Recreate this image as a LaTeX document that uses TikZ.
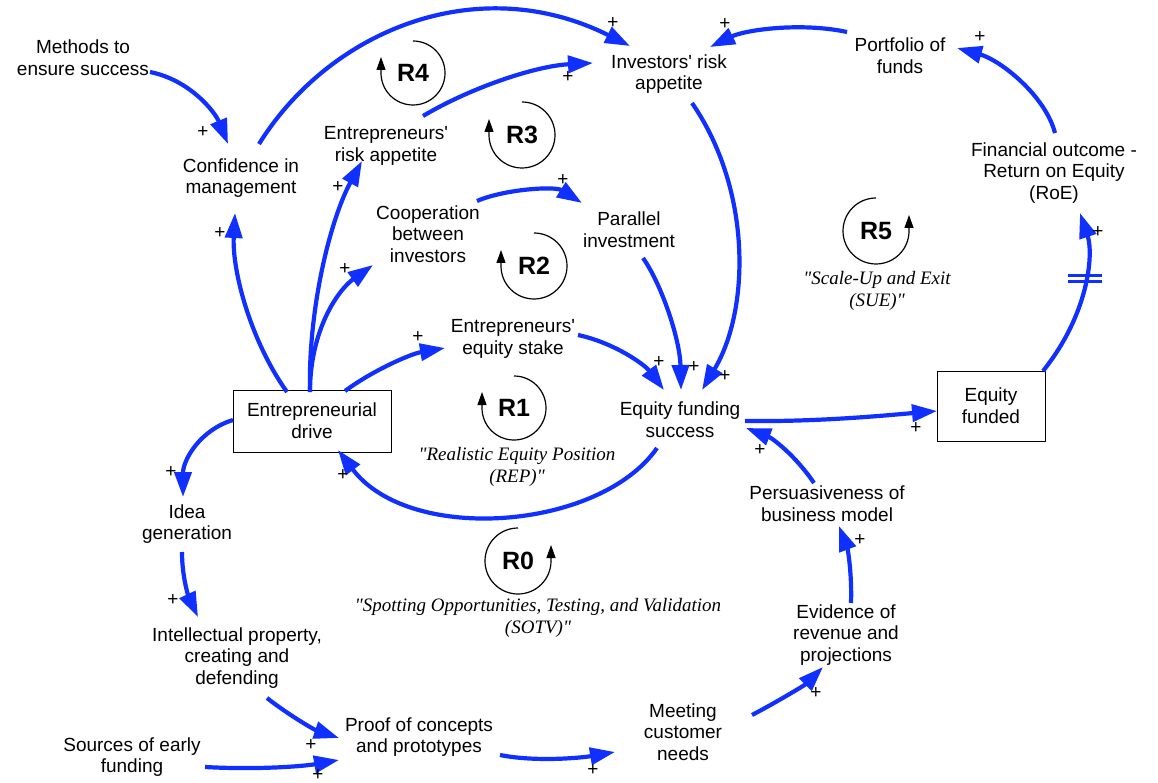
\documentclass[tikz,border=0pt]{standalone}
\usepackage{fontspec}
\setmainfont{Liberation Sans}[Ligatures=TeXOff]
\newfontfamily\itserif{Liberation Serif}[Ligatures=TeXOff]
\usetikzlibrary{arrows.meta}
\definecolor{linkblue}{RGB}{16,48,255}
\begin{document}
\begin{tikzpicture}[x=1pt,y=-1pt,
  lbl/.style={align=center,font=\fontsize{19}{21.7}\selectfont,inner sep=0pt},
  box/.style={draw,line width=1pt,fill=white,align=center,font=\fontsize{19}{21.7}\selectfont,inner sep=0pt},
  link/.style={draw=linkblue,line width=4.2pt,-{Triangle[length=25pt,width=17pt]}},
  pl/.style={font=\fontsize{19}{19}\selectfont,inner sep=0pt},
  loopc/.style={draw,line width=1.2pt,-{Triangle[length=13pt,width=9pt]}},
  rlab/.style={font=\bfseries\fontsize{25}{25}\selectfont,inner sep=0pt},
  ital/.style={align=center,font=\itserif\itshape\fontsize{19}{21.5}\selectfont,inner sep=0pt},
  delay/.style={draw=linkblue,line width=3.2pt}]
\useasboundingbox[fill=white] (0,0) rectangle (1158,783);

% variables
\node[lbl] (meth) at (83,58) {Methods to\\ensure success};
\node[lbl] (conf) at (241,178) {Confidence in\\management};
\node[lbl] (era) at (386,146) {Entrepreneurs'\\risk appetite};
\node[lbl] (ira) at (669,74) {Investors' risk\\appetite};
\node[lbl] (port) at (900,56) {Portfolio of\\funds};
\node[lbl] (fin) at (1054,173) {Financial outcome -\\Return on Equity\\(RoE)};
\node[lbl] (coop) at (428,234) {Cooperation\\between\\investors};
\node[lbl] (par) at (629,230) {Parallel\\investment};
\node[lbl] (ees) at (513,339) {Entrepreneurs'\\equity stake};
\node[box,minimum width=158,minimum height=62] (drive) at (312,421) {Entrepreneurial\\drive};
\node[lbl] (efs) at (680,420) {Equity funding\\success};
\node[box,minimum width=108,minimum height=70] (ef) at (991,406) {Equity\\funded};
\node[lbl] (idea) at (187,524) {Idea\\generation};
\node[lbl] (ip) at (237,658) {Intellectual property,\\creating and\\defending};
\node[lbl] (proof) at (419,737) {Proof of concepts\\and prototypes};
\node[lbl] (src) at (132,757) {Sources of early\\funding};
\node[lbl] (meet) at (683,732) {Meeting\\customer\\needs};
\node[lbl] (evid) at (846,635) {Evidence of\\revenue and\\projections};
\node[lbl] (pers) at (827,504) {Persuasiveness of\\business model};

% loop labels
\node[rlab] (r4) at (413,73) {R4};
\node[rlab] (r3) at (522,135) {R3};
\node[rlab] (r2) at (534,266) {R2};
\node[rlab] (r1) at (514,408) {R1};
\node[rlab] (r0) at (518,561) {R0};
\node[rlab] (r5) at (876,231) {R5};
\draw[loopc] ([shift={(270:32)}]r4.center) arc[start angle=270,end angle=540,radius=32] -- ++(0,-16);
\draw[loopc] ([shift={(270:33)}]r3.center) arc[start angle=270,end angle=540,radius=33] -- ++(0,-16);
\draw[loopc] ([shift={(270:33)}]r2.center) arc[start angle=270,end angle=540,radius=33] -- ++(0,-16);
\draw[loopc] ([shift={(270:32)}]r1.center) arc[start angle=270,end angle=540,radius=32] -- ++(0,-16);
\draw[loopc] ([shift={(270:33)}]r0.center) arc[start angle=270,end angle=0,radius=33] -- ++(0,-16);
\draw[loopc] ([shift={(270:33)}]r5.center) arc[start angle=270,end angle=0,radius=33] -- ++(0,-16);

\node[ital] (rep) at (517,467) {"Realistic Equity Position\\(REP)"};
\node[ital] (sotv) at (538,618) {"Spotting Opportunities, Testing, and Validation\\(SOTV)"};
\node[ital] (sue) at (877,291) {"Scale-Up and Exit\\(SUE)"};

% links
\draw[link] ([shift={(67,14)}]meth.center) .. controls (190,80) and (215,112) .. ([shift={(-13,-34)}]conf.center);
\draw[link] ([shift={(18,-34)}]conf.center) .. controls (330,30) and (478,-30) .. ([shift={(-39,-28)}]ira.center);
\draw[link] ([shift={(37,-30)}]era.center) .. controls (470,88) and (535,66) .. ([shift={(-76,-11)}]ira.center);
\draw[link] ([shift={(49,-33)}]coop.center) .. controls (505,189) and (555,186) .. ([shift={(-47,-27)}]par.center);
\draw[link] ([shift={(-25,-29)}]drive.center) .. controls (250,340) and (232,270) .. ([shift={(-6,35)}]conf.center);
\draw[link] ([shift={(-2,-29)}]drive.center) .. controls (308,310) and (330,220) .. ([shift={(-24,15)}]era.center);
\draw[link] ([shift={(-2,-29)}]drive.center) .. controls (310,330) and (338,290) .. ([shift={(-55,31)}]coop.center);
\draw[link] ([shift={(33,-30)}]drive.center) .. controls (372,371) and (410,354) .. ([shift={(-68,9)}]ees.center);
\draw[link] ([shift={(-79,-1)}]drive.center) .. controls (200,430) and (183,460) .. ([shift={(-4,-27)}]idea.center);
\draw[link] ([shift={(-5,28)}]idea.center) .. controls (182,580) and (190,600) .. ([shift={(-39,-41)}]ip.center);
\draw[link] ([shift={(30,40)}]ip.center) .. controls (290,716) and (315,730) .. ([shift={(-80,1)}]proof.center);
\draw[link] ([shift={(73,10)}]src.center) .. controls (260,770) and (305,766) .. ([shift={(-80,23)}]proof.center);
\draw[link] ([shift={(81,18)}]proof.center) .. controls (535,762) and (580,758) .. ([shift={(-68,20)}]meet.center);
\draw[link] ([shift={(69,-17)}]meet.center) .. controls (775,703) and (805,685) .. ([shift={(-23,32)}]evid.center);
\draw[link] ([shift={(5,-32)}]evid.center) .. controls (852,575) and (848,550) .. ([shift={(12,22)}]pers.center);
\draw[link] ([shift={(-13,-21)}]pers.center) .. controls (795,455) and (772,438) .. ([shift={(66,8)}]efs.center);
\draw[link] ([shift={(-23,28)}]efs.center) .. controls (600,530) and (410,545) .. ([shift={(26,29)}]drive.center);
\draw[link] ([shift={(65,-4)}]ees.center) .. controls (615,343) and (645,365) .. ([shift={(-16,-30)}]efs.center);
\draw[link] ([shift={(14,28)}]par.center) .. controls (662,285) and (680,340) .. ([shift={(1,-30)}]efs.center);
\draw[link] ([shift={(23,29)}]ira.center) .. controls (752,190) and (750,310) .. ([shift={(22,-30)}]efs.center);
\draw[link] ([shift={(65,1)}]efs.center) .. controls (820,422) and (890,415) .. ([shift={(-54,5)}]ef.center);
\draw[link] ([shift={(52,-35)}]ef.center) .. controls (1088,315) and (1094,255) .. coordinate[pos=0.55] (dly) ([shift={(26,40)}]fin.center);
\draw[link] ([shift={(1,-40)}]fin.center) .. controls (1045,95) and (1000,60) .. ([shift={(57,-8)}]port.center);
\draw[link] ([shift={(-53,-24)}]port.center) .. controls (800,22) and (745,30) .. ([shift={(41,-27)}]ira.center);

% delay mark
\draw[delay] ([shift={(-17,-3)}]dly) -- ([shift={(17,-3)}]dly);
\draw[delay] ([shift={(-17,3)}]dly) -- ([shift={(17,3)}]dly);

% polarity signs
\node[pl] (p1) at (203,132) {+};
\node[pl] (p2) at (613,23) {+};
\node[pl] (p3) at (568,77) {+};
\node[pl] (p4) at (563,180) {+};
\node[pl] (p5) at (220,233) {+};
\node[pl] (p6) at (338,187) {+};
\node[pl] (p7) at (345,269) {+};
\node[pl] (p8) at (418,337) {+};
\node[pl] (p9) at (171,472) {+};
\node[pl] (p10) at (173,600) {+};
\node[pl] (p11) at (311,745) {+};
\node[pl] (p12) at (318,775) {+};
\node[pl] (p13) at (593,770) {+};
\node[pl] (p14) at (816,693) {+};
\node[pl] (p15) at (860,540) {+};
\node[pl] (p16) at (760,450) {+};
\node[pl] (p17) at (343,475) {+};
\node[pl] (p18) at (659,362) {+};
\node[pl] (p19) at (694,367) {+};
\node[pl] (p20) at (725,376) {+};
\node[pl] (p21) at (916,428) {+};
\node[pl] (p22) at (1098,232) {+};
\node[pl] (p23) at (980,37) {+};
\node[pl] (p24) at (725,24) {+};
\end{tikzpicture}
\end{document}
